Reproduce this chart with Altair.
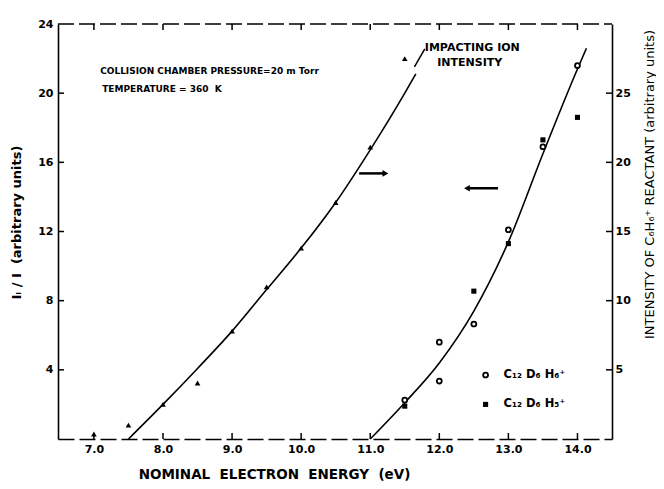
import altair as alt
import pandas as pd

# ---------------- data ----------------
# impacting ion intensity (right axis, arbitrary units), triangles
ion_energy = [7.0, 7.5, 8.0, 8.5, 9.0, 9.5, 10.0, 10.5, 11.0, 11.5]
ion_intensity = [0.36, 1.0, 2.5, 4.05, 7.8, 11.0, 13.8, 17.1, 21.1, 27.5]
ion_fit_energy = [7.5, 8.0, 8.5, 9.0, 9.5, 10.0, 10.5, 11.0, 11.5, 11.66]
ion_fit_value = [0.0, 2.5, 5.1, 7.8, 10.8, 13.8, 17.1, 20.9, 25.0, 26.4]

# product ions Ii/I (left axis, arbitrary units)
h6_energy = [11.5, 12.0, 12.0, 12.5, 13.0, 13.5, 14.0]
h6_value = [2.25, 5.6, 3.35, 6.65, 12.1, 16.9, 21.6]
h5_energy = [11.5, 12.5, 13.0, 13.5, 14.0]
h5_value = [1.9, 8.55, 11.3, 17.3, 18.6]
prod_fit_energy = [11.0, 11.5, 12.0, 12.5, 13.0, 13.5, 14.0, 14.13]
prod_fit_value = [0.0, 2.1, 4.4, 7.4, 11.4, 16.5, 21.4, 22.6]

x_ticks = [7, 8, 9, 10, 11, 12, 13, 14]
left_ticks = [4, 8, 12, 16, 20, 24]
right_ticks = [5, 10, 15, 20, 25]

W, H = 554, 415
FONT = "DejaVu Sans"
NB = "\u00a0"

xs = alt.Scale(domain=[6.48, 14.5], nice=False, zero=False)
yl = alt.Scale(domain=[0, 24], nice=False, zero=False)
yr = alt.Scale(domain=[0, 30], nice=False, zero=False)

x_axis = alt.Axis(values=x_ticks, format=".1f", ticks=False, grid=False,
                  domainColor="black", domainWidth=1.6, domainDash=[16, 5],
                  labelFont=FONT, labelFontSize=11, labelFontWeight="bold",
                  labelColor="black", labelPadding=4,
                  title=f"NOMINAL{NB} ELECTRON{NB} ENERGY{NB} (eV)", titleFont=FONT,
                  titleFontSize=13.5, titleFontWeight="bold", titleColor="black",
                  titleX=216, titleY=35, titleBaseline="middle", titleAlign="center")
xe = alt.X("x:Q", scale=xs, axis=x_axis)

yl_axis = alt.Axis(values=left_ticks, ticks=False, grid=False, orient="left",
                   domainColor="black", domainWidth=1.6,
                   labelFont=FONT, labelFontSize=11, labelFontWeight="bold",
                   labelColor="black", labelPadding=5,
                   title=f"Iᵢ / I{NB} (arbitrary units)", titleFont=FONT, titleFontSize=13,
                   titleFontWeight="bold", titleColor="black", titleAngle=270,
                   titleX=-42, titleY=198, titleAlign="center", titleBaseline="middle")
yr_axis = alt.Axis(values=right_ticks, ticks=False, grid=False, orient="right",
                   domainColor="black", domainWidth=1.6,
                   labelFont=FONT, labelFontSize=11, labelFontWeight="bold",
                   labelColor="black", labelPadding=3,
                   title="INTENSITY OF C₆H₆⁺ REACTANT (arbitrary units)", titleFont=FONT,
                   titleFontSize=13, titleFontWeight="normal", titleColor="black",
                   titleAngle=270, titleX=37, titleY=160, titleAlign="center",
                   titleBaseline="middle")

ylq = alt.Y("y:Q", scale=yl, axis=yl_axis)
yrq = alt.Y("y:Q", scale=yr, axis=yr_axis)

# ---------- group A: right axis (impacting ion intensity) ----------
df_ion = pd.DataFrame({"x": ion_energy, "y": ion_intensity})
df_ion_fit = pd.DataFrame({"x": ion_fit_energy, "y": ion_fit_value})
ion_line = alt.Chart(df_ion_fit).mark_line(color="black", strokeWidth=1.6,
                                          interpolate="monotone").encode(x=xe, y=yrq)
ion_pts = alt.Chart(df_ion).mark_point(shape="triangle-up", filled=True, color="black",
                                      size=32, opacity=1).encode(x=xe, y=yrq)

arrow_r_x = [10.84, 11.22]
arrow_r_y = [19.2, 19.2]
df_ar = pd.DataFrame({"x": arrow_r_x[:1], "x2": arrow_r_x[1:], "y": arrow_r_y[:1]})
ar_line = alt.Chart(df_ar).mark_rule(color="black", strokeWidth=2.5).encode(
    x=xe, x2="x2:Q", y=yrq)
ar_head = alt.Chart(pd.DataFrame({"x": arrow_r_x[1:], "y": arrow_r_y[1:]})).mark_point(
    shape="triangle-right", filled=True, color="black", size=45, opacity=1).encode(x=xe, y=yrq)

leader_x = [11.64, 11.79]
leader_y = [26.9, 28.2]
df_lead = pd.DataFrame({"x": leader_x[:1], "x2": leader_x[1:], "y": leader_y[:1], "y2": leader_y[1:]})
lead = alt.Chart(df_lead).mark_rule(color="black", strokeWidth=1.5).encode(
    x=xe, x2="x2:Q", y=yrq, y2="y2:Q")

imp_text = ["IMPACTING ION", "INTENSITY"]
imp_x = [11.79, 11.97]
imp_y = [28.3, 27.2]
df_imp = pd.DataFrame({"x": imp_x, "y": imp_y, "t": imp_text})
imp = alt.Chart(df_imp).mark_text(align="left", baseline="middle", font=FONT, fontSize=11,
                                  fontWeight="bold", color="black").encode(x=xe, y=yrq, text="t:N")

rt = alt.Chart(pd.DataFrame({"y": right_ticks})).mark_rule(color="black", strokeWidth=1.5).encode(
    x=alt.value(W - 6), x2=alt.value(W), y=yrq)

group_a = alt.layer(ion_line, ion_pts, ar_line, ar_head, lead, imp, rt)

# ---------- group B: left axis (Ii/I) ----------
df_h6 = pd.DataFrame({"x": h6_energy, "y": h6_value})
df_h5 = pd.DataFrame({"x": h5_energy, "y": h5_value})
df_pf = pd.DataFrame({"x": prod_fit_energy, "y": prod_fit_value})
prod_line = alt.Chart(df_pf).mark_line(color="black", strokeWidth=1.6,
                                       interpolate="monotone").encode(x=xe, y=ylq)
h6_pts = alt.Chart(df_h6).mark_point(shape="circle", filled=False, color="black", fill="white",
                                    fillOpacity=1, strokeWidth=1.8, size=24, opacity=1).encode(x=xe, y=ylq)
h5_pts = alt.Chart(df_h5).mark_point(shape="square", filled=True, color="black",
                                    size=26, opacity=1).encode(x=xe, y=ylq)

arrow_l_x = [12.40, 12.85]
arrow_l_y = [14.5, 14.5]
df_al = pd.DataFrame({"x": arrow_l_x[:1], "x2": arrow_l_x[1:], "y": arrow_l_y[:1]})
al_line = alt.Chart(df_al).mark_rule(color="black", strokeWidth=2.5).encode(
    x=xe, x2="x2:Q", y=ylq)
al_head = alt.Chart(pd.DataFrame({"x": arrow_l_x[:1], "y": arrow_l_y[:1]})).mark_point(
    shape="triangle-left", filled=True, color="black", size=45, opacity=1).encode(x=xe, y=ylq)

cond_text = ["COLLISION CHAMBER PRESSURE=20 m Torr", f"TEMPERATURE = 360{NB} K"]
cond_x = [7.09, 7.12]
cond_y = [21.3, 20.25]
df_cond = pd.DataFrame({"x": cond_x, "y": cond_y, "t": cond_text})
cond = alt.Chart(df_cond).mark_text(align="left", baseline="middle", font=FONT, fontSize=9,
                                    fontWeight="bold", color="black").encode(x=xe, y=ylq, text="t:N")

leg_labels = ["C₁₂ D₆ H₆⁺", "C₁₂ D₆ H₅⁺"]
leg_x = [12.67, 12.67]
leg_y = [3.7, 2.0]
leg_tx = [12.93, 12.93]
leg_c = alt.Chart(pd.DataFrame({"x": leg_x[:1], "y": leg_y[:1]})).mark_point(
    shape="circle", filled=False, color="black", fill="white", fillOpacity=1,
    strokeWidth=1.8, size=24, opacity=1).encode(x=xe, y=ylq)
leg_s = alt.Chart(pd.DataFrame({"x": leg_x[1:], "y": leg_y[1:]})).mark_point(
    shape="square", filled=True, color="black", size=26, opacity=1).encode(x=xe, y=ylq)
leg_t = alt.Chart(pd.DataFrame({"x": leg_tx, "y": leg_y, "t": leg_labels})).mark_text(
    align="left", baseline="middle", font=FONT, fontSize=11.5, fontWeight="bold",
    color="black").encode(x=xe, y=ylq, text="t:N")

lt = alt.Chart(pd.DataFrame({"y": left_ticks[:-1]})).mark_rule(color="black", strokeWidth=1.5).encode(
    x=alt.value(0), x2=alt.value(6), y=ylq)
df_xt = pd.DataFrame({"x": x_ticks})
bt = alt.Chart(df_xt).mark_rule(color="black", strokeWidth=1.5).encode(
    x=xe, y=alt.value(H), y2=alt.value(H - 6))
tt = alt.Chart(df_xt).mark_rule(color="black", strokeWidth=1.5).encode(
    x=xe, y=alt.value(0), y2=alt.value(6))
top_border = alt.Chart(pd.DataFrame({"x": [0]})).mark_rule(
    color="black", strokeWidth=1.6, strokeDash=[16, 5]).encode(
    x=alt.value(0), x2=alt.value(W), y=alt.value(0))

group_b = alt.layer(prod_line, h6_pts, h5_pts, al_line, al_head, cond,
                    leg_c, leg_s, leg_t, lt, bt, tt, top_border)

chart = alt.layer(group_a, group_b).resolve_scale(y="independent").properties(
    width=W, height=H,
    autosize=alt.AutoSizeParams(type="none"),
    padding={"left": 50, "top": 16, "right": 44, "bottom": 42},
    background="white",
).configure_view(stroke=None)

chart.save("out.html", embed_options={"renderer": "svg", "actions": False})
